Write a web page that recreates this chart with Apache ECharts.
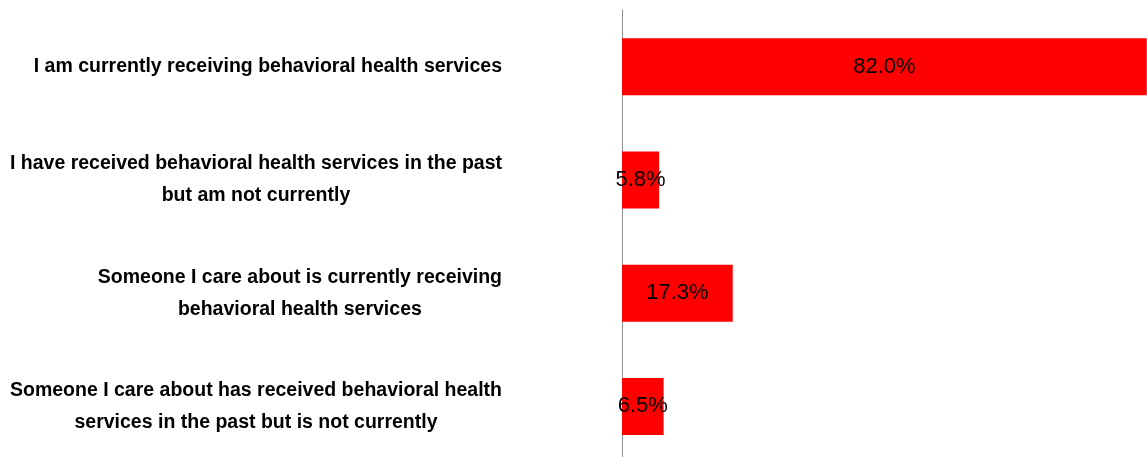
<!DOCTYPE html>
<html>
<head>
<meta charset="utf-8">
<script src="https://cdn.jsdelivr.net/npm/echarts@6/dist/echarts.min.js"></script>
<style>
html,body{margin:0;padding:0;background:#fff;}
#chart{width:1147px;height:457px;}
</style>
</head>
<body>
<div id="chart"></div>
<script>
const categories = [
  "I am currently receiving behavioral health services",
  "I have received behavioral health services in the past\nbut am not currently",
  "Someone I care about is currently receiving\nbehavioral health services",
  "Someone I care about has received behavioral health\nservices in the past but is not currently"
];
const values = [82.0, 5.8, 17.3, 6.5];

const chart = echarts.init(document.getElementById('chart'), null, {renderer: 'canvas'});
chart.setOption({
  animation: false,
  backgroundColor: '#ffffff',
  grid: {left: 622, top: 10, width: 640, height: 453, containLabel: false, outerBoundsMode: 'none'},
  xAxis: {
    type: 'value', min: 0, max: 100, show: false,
    splitLine: {show: false}
  },
  yAxis: {
    type: 'category',
    data: categories,
    inverse: true,
    axisLine: {show: true, lineStyle: {color: '#8c8c8c', width: 1}},
    axisTick: {show: false},
    axisLabel: {
      margin: 120,
      align: 'right',
      formatter: function (v) {
        return v.split('\n').map(function (l) { return '{c|' + l + '}'; }).join('\n');
      },
      rich: {
        c: {
          align: 'center',
          fontFamily: '"Liberation Sans", Arial, sans-serif',
          fontWeight: 'bold',
          fontSize: 19.5,
          lineHeight: 32,
          color: '#000'
        }
      }
    }
  },
  series: [{
    type: 'bar',
    data: values,
    barWidth: 57,
    itemStyle: {color: '#ff0000'},
    label: {
      show: true,
      position: 'inside',
      formatter: function (p) { return p.value.toFixed(1) + '%'; },
      fontFamily: '"Liberation Sans", Arial, sans-serif',
      fontSize: 22,
      color: '#000'
    }
  }]
});
</script>
</body>
</html>
